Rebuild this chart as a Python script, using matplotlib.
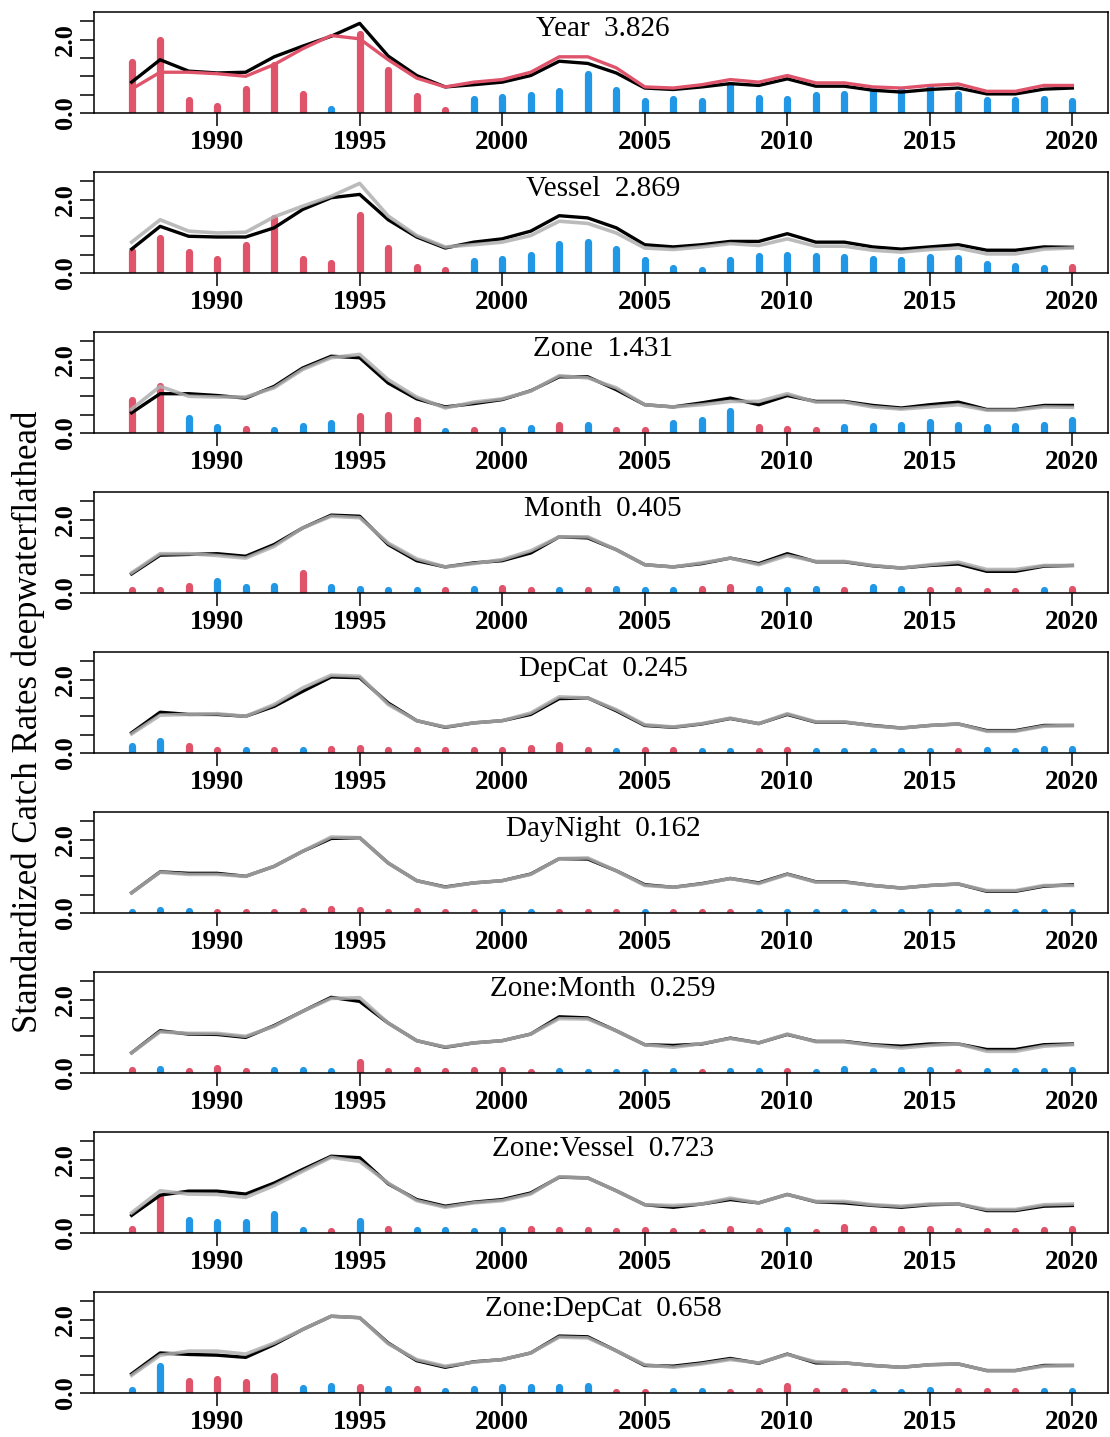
import matplotlib
matplotlib.use("Agg")
import matplotlib.pyplot as plt
import numpy as np

plt.rcParams['font.family'] = ['Liberation Serif', 'DejaVu Serif']

years = list(range(1987, 2021))

terms = ["Year", "Vessel", "Zone", "Month", "DepCat", "DayNight",
         "Zone:Month", "Zone:Vessel", "Zone:DepCat"]
term_stats = [3.826, 2.869, 1.431, 0.405, 0.245, 0.162, 0.259, 0.723, 0.658]

# nominal (red line, top panel)
nominal = [0.65, 1.11, 1.11, 1.07, 1.00, 1.32, 1.75, 2.11, 2.02, 1.45, 0.95, 0.71,
           0.84, 0.91, 1.11, 1.53, 1.53, 1.23, 0.71, 0.68, 0.77, 0.91, 0.84, 1.02,
           0.82, 0.82, 0.71, 0.68, 0.75, 0.79, 0.59, 0.59, 0.75, 0.75]

# standardized index after adding each term (black lines)
idx_year = [0.84, 1.45, 1.14, 1.09, 1.11, 1.53, 1.82, 2.09, 2.44, 1.55, 1.02, 0.71,
            0.77, 0.84, 1.02, 1.41, 1.35, 1.09, 0.68, 0.64, 0.71, 0.80, 0.75, 0.93,
            0.73, 0.73, 0.62, 0.57, 0.64, 0.68, 0.52, 0.52, 0.65, 0.68]
idx_vessel = [0.65, 1.27, 1.00, 0.98, 0.98, 1.23, 1.73, 2.05, 2.14, 1.45, 0.98, 0.68,
              0.84, 0.93, 1.14, 1.56, 1.50, 1.23, 0.77, 0.71, 0.77, 0.86, 0.86, 1.07,
              0.84, 0.84, 0.71, 0.65, 0.71, 0.77, 0.62, 0.62, 0.71, 0.70]
idx_zone = [0.55, 1.07, 1.07, 1.02, 0.95, 1.27, 1.77, 2.09, 2.05, 1.36, 0.93, 0.71,
            0.80, 0.91, 1.15, 1.53, 1.53, 1.18, 0.77, 0.71, 0.82, 0.95, 0.77, 1.02,
            0.86, 0.86, 0.75, 0.68, 0.77, 0.84, 0.64, 0.64, 0.75, 0.75]
idx_month = [0.52, 1.03, 1.05, 1.07, 1.00, 1.32, 1.77, 2.12, 2.09, 1.32, 0.88, 0.71,
             0.82, 0.88, 1.09, 1.53, 1.50, 1.18, 0.77, 0.71, 0.80, 0.95, 0.80, 1.07,
             0.85, 0.85, 0.74, 0.68, 0.75, 0.79, 0.59, 0.59, 0.73, 0.75]
idx_depcat = [0.55, 1.11, 1.05, 1.05, 1.00, 1.27, 1.68, 2.07, 2.05, 1.36, 0.88, 0.70,
              0.82, 0.88, 1.05, 1.48, 1.50, 1.15, 0.75, 0.70, 0.79, 0.94, 0.80, 1.05,
              0.84, 0.84, 0.75, 0.68, 0.75, 0.79, 0.61, 0.61, 0.75, 0.75]
idx_daynight = [0.55, 1.12, 1.08, 1.08, 1.00, 1.27, 1.68, 2.03, 2.05, 1.36, 0.88, 0.71,
                0.82, 0.88, 1.06, 1.48, 1.47, 1.15, 0.77, 0.70, 0.80, 0.94, 0.82, 1.06,
                0.85, 0.85, 0.75, 0.68, 0.75, 0.79, 0.59, 0.59, 0.73, 0.77]
idx_zonemonth = [0.55, 1.15, 1.06, 1.05, 0.97, 1.29, 1.68, 2.06, 1.95, 1.36, 0.88, 0.70,
                 0.82, 0.88, 1.06, 1.53, 1.50, 1.15, 0.77, 0.75, 0.79, 0.95, 0.82, 1.05,
                 0.86, 0.86, 0.77, 0.73, 0.79, 0.79, 0.64, 0.64, 0.77, 0.79]
idx_zonevessel = [0.48, 1.03, 1.14, 1.14, 1.06, 1.36, 1.73, 2.09, 2.05, 1.34, 0.91, 0.73,
                  0.84, 0.91, 1.09, 1.52, 1.50, 1.15, 0.77, 0.70, 0.79, 0.91, 0.82, 1.05,
                  0.85, 0.82, 0.75, 0.70, 0.77, 0.79, 0.61, 0.61, 0.73, 0.75]
idx_zonedepcat = [0.52, 1.09, 1.05, 1.03, 0.97, 1.32, 1.73, 2.09, 2.05, 1.36, 0.88, 0.70,
                  0.85, 0.91, 1.09, 1.55, 1.53, 1.15, 0.75, 0.73, 0.82, 0.94, 0.81, 1.06,
                  0.82, 0.82, 0.75, 0.70, 0.77, 0.79, 0.61, 0.61, 0.75, 0.75]

# influence bars: positive = red, negative = blue (height = abs value)
inf_year = [1.38, 1.98, 0.35, 0.20, 0.65, 1.32, 0.53, -0.11, 2.16, 1.18, 0.47, 0.09,
            -0.38, -0.43, -0.48, -0.59, -1.05, -0.62, -0.32, -0.38, -0.32, -0.77, -0.41, -0.38,
            -0.50, -0.53, -0.65, -0.62, -0.71, -0.53, -0.35, -0.35, -0.38, -0.32]
inf_vessel = [0.59, 0.95, 0.56, 0.38, 0.75, 1.50, 0.39, 0.27, 1.57, 0.68, 0.16, 0.07,
              -0.32, -0.38, -0.50, -0.80, -0.84, -0.65, -0.35, -0.13, -0.09, -0.36, -0.47, -0.50,
              -0.45, -0.44, -0.38, -0.36, -0.44, -0.41, -0.25, -0.20, -0.14, 0.16]
inf_zone = [0.91, 1.27, -0.41, -0.16, 0.11, -0.09, -0.20, -0.27, 0.45, 0.50, 0.35, -0.06,
            0.09, -0.09, -0.14, 0.23, -0.23, 0.09, 0.09, -0.27, -0.35, -0.59, 0.16, 0.11,
            0.09, -0.16, -0.18, -0.21, -0.30, -0.23, -0.15, -0.20, -0.22, -0.36]
inf_month = [0.09, 0.09, 0.20, -0.34, -0.16, -0.18, 0.55, -0.15, -0.11, -0.08, -0.09, 0.08,
             -0.10, 0.13, 0.09, -0.08, 0.08, -0.11, -0.09, -0.08, 0.11, 0.17, -0.11, -0.07,
             -0.11, 0.07, -0.15, -0.12, 0.09, 0.09, 0.06, 0.06, -0.07, 0.10]
inf_depcat = [-0.18, -0.34, 0.18, 0.09, -0.08, 0.09, -0.08, 0.12, 0.13, 0.07, 0.07, 0.07,
              0.07, 0.08, 0.14, 0.21, 0.07, -0.06, 0.07, 0.07, -0.06, -0.06, 0.06, 0.08,
              -0.06, -0.06, -0.06, -0.06, -0.05, 0.05, -0.07, -0.05, -0.12, -0.12]
inf_daynight = [-0.04, -0.08, -0.05, 0.03, 0.03, 0.04, 0.05, 0.10, 0.07, 0.04, 0.06, 0.03,
                0.03, -0.03, -0.03, 0.03, 0.03, 0.03, -0.03, 0.03, 0.03, 0.03, -0.03, -0.04,
                -0.03, -0.03, -0.03, -0.03, -0.03, -0.03, -0.03, -0.03, -0.03, -0.04]
inf_zonemonth = [0.08, -0.12, 0.05, 0.14, 0.06, -0.07, -0.07, -0.05, 0.30, 0.06, 0.08, 0.06,
                 0.07, 0.08, 0.04, -0.06, -0.04, -0.04, -0.04, -0.05, 0.04, -0.05, -0.06, 0.05,
                 -0.04, -0.10, -0.06, -0.09, -0.07, 0.04, -0.06, -0.05, -0.05, -0.07]
inf_zonevessel = [0.10, 0.97, -0.35, -0.30, -0.29, -0.52, -0.08, 0.06, -0.32, 0.10, -0.09, -0.08,
                  -0.06, -0.07, 0.12, 0.07, 0.07, 0.06, 0.07, 0.06, 0.04, 0.12, 0.05, -0.08,
                  0.04, 0.17, 0.10, 0.12, 0.12, 0.06, 0.06, 0.06, 0.09, 0.11]
inf_zonedepcat = [-0.08, -0.73, 0.33, 0.37, 0.29, 0.47, -0.14, -0.19, 0.15, -0.11, 0.10, -0.05,
                  -0.12, -0.15, -0.15, -0.15, -0.20, 0.04, 0.03, -0.06, -0.05, 0.04, 0.06, 0.18,
                  0.05, 0.05, -0.04, -0.04, -0.07, 0.06, 0.06, 0.05, -0.05, -0.05]

indices = [idx_year, idx_vessel, idx_zone, idx_month, idx_depcat, idx_daynight,
           idx_zonemonth, idx_zonevessel, idx_zonedepcat]
influences = [inf_year, inf_vessel, inf_zone, inf_month, inf_depcat, inf_daynight,
              inf_zonemonth, inf_zonevessel, inf_zonedepcat]

RED = '#DF536B'
BLUE = '#2297E6'

W, H = 1110, 1437
fig = plt.figure(figsize=(W / 100, H / 100), dpi=100)

yrs = np.array(years)
for k in range(len(terms)):
    top = 12 + 160 * k
    bot = 113 + 160 * k
    ax = fig.add_axes([94 / W, 1 - bot / H, (1108 - 94) / W, (bot - top) / H])
    ax.set_xlim(1985.68, 2021.25)
    ax.set_ylim(0, 2.75)

    inf = np.array(influences[k])
    cols = [RED if v > 0 else BLUE for v in inf]
    bars = ax.vlines(yrs, 0, np.abs(inf), colors=cols, linewidth=5.2, zorder=1)
    bars.set_capstyle('round')

    if k == 0:
        ax.plot(yrs, indices[0], color='black', lw=2.4, zorder=3)
        ax.plot(yrs, nominal, color=RED, lw=2.4, zorder=4)
    else:
        ax.plot(yrs, indices[k], color='black', lw=2.4, zorder=3)
        ax.plot(yrs, indices[k - 1], color='#b0b0b0', lw=2.6, alpha=0.85, zorder=4)

    ax.text(0.502, 0.83, f"{terms[k]}  {term_stats[k]:.3f}", transform=ax.transAxes,
            ha='center', va='center', fontsize=21)

    ax.set_xticks(range(1990, 2021, 5))
    ax.set_xticklabels([str(y) for y in range(1990, 2021, 5)], fontweight='bold', fontsize=19.5)
    ax.set_yticks([0, 0.5, 1.0, 1.5, 2.0, 2.5])
    ax.set_yticklabels(['0.0', '', '', '', '2.0', ''], rotation=90, va='center',
                       fontweight='bold', fontsize=19)
    ax.tick_params(axis='x', length=9, width=1.1, pad=3)
    ax.tick_params(axis='y', length=10, width=1.1, pad=2)
    for s in ax.spines.values():
        s.set_linewidth(1.1)

fig.text(28 / W, 1 - 722 / H, "Standardized Catch Rates deepwaterflathead",
         rotation=90, ha='center', va='center', fontsize=25)

fig.savefig("out.png", dpi=100)
